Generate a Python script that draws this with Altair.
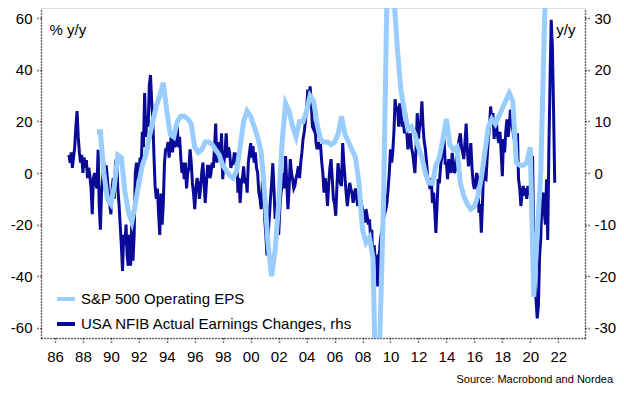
import altair as alt
import pandas as pd

EPS_NAME = "S&P 500 Operating EPS"
NFIB_NAME = "USA NFIB Actual Earnings Changes, rhs"
LIGHT = "#99CCFF"
DARK = "#0A0A99"
FONT = "Liberation Sans"

# S&P 500 operating EPS, % y/y, quarterly from 1989 Q1 (left axis)
eps = [
    16, 16, 0, -10,      # 1989
    -12, -5, 7, 6,       # 1990
    -7, -15, -19, -12,   # 1991
    -4, 3, 7, 14,        # 1992
    20, 26, 30, 35,      # 1993
    24, 15, 14, 20,      # 1994
    22, 22, 21, 19,      # 1995
    10, 8, 9, 12,        # 1996
    12, 11, 9, 7,        # 1997
    3, 1, -1, -2,        # 1998
    1, 10, 20, 24,       # 1999
    22, 18, 14, 8,       # 2000
    -8, -28, -40, -30,   # 2001
    -12, 12, 27, 24,     # 2002
    18, 14, 20, 20,      # 2003
    24, 30, 28, 19,      # 2004
    13, 12, 12, 11,      # 2005
    12, 15, 22, 15,      # 2006
    12, 9, 6, -4,        # 2007
    -22, -27, -25, -33,  # 2008
    -100, -62, -13, 70,  # 2009
    150, 68, 48, 32,     # 2010
    24, 17, 18, 15,      # 2011
    10, 6, 0, -4,        # 2012
    -4, 3, 6, 13,        # 2013
    21, 11, 9, 10,       # 2014
    -4, -9, -12, -14,    # 2015
    -13, -9, -2, 8,      # 2016
    18, 21, 19, 22,      # 2017
    25, 28, 31, 28,      # 2018
    4, 3, 3, 4,          # 2019
    10, -48, -24, 0,     # 2020
    55, 95,              # 2021
]

# NFIB actual earnings changes, monthly from Jan 1987 (right axis)
nfib = [
    3.5, 2, 4, 1, 3, 5, 9, 12, 7, 4, 2, 3.5,                       # 1987
    0, 3, 1, 2.5, -1, 1, -0.5, -3, -8, -1, 0, -2,                  # 1988
    -3, 4.5, -6, -11, -4, -1, 2, -2, 1.5, -1, -4, -6,              # 1989
    -8, -3, -1, -5, 2, 3, -3, -6, -10, -14, -19, -12,              # 1990
    -14, -10, -16, -18, -12, -18, -9, -17, -12, 0, 2, -1,          # 1991
    -1, 3, 1, 8, 5, 15.5, 7, 11, 9, 17, 19, 14,                    # 1992
    10, 3, -2.5, -5, -3, -8, -12, -4, -10, -6, 2, 4.5,             # 1993
    4.5, 6, 3, 5, 7.7, 4, 7, 5, 6, 9, 5, 7,                        # 1994
    3, 0, 2, -1.2, 2, -3, 0, 1, 4.6, 2, -2, -4,                    # 1995
    -7, -3, -1, -2, -5, -3, 0, 2, -2, -5.8, -2, 1.3,               # 1996
    1.3, -1, 0, 2, 1, 5, 9.6, 2, 4, 6, 3, 7.7,                     # 1997
    -1.2, 2, 4, 7.7, 3, 5, 3.9, 1, 2, 1.9, 4, 2,                   # 1998
    3.9, -3.8, -1, -5.8, -2, -1, 1.3, -2, -1, -3.8, 2, 4,          # 1999
    5.8, 3, 5.2, 2, 4, 1, 0, -3.8, -5, -7, -2, 1.3,                # 2000
    -8.9, -12, -16, -12, -8.9, -5, -2, 1.9, -3, -8.9, -6, -10,     # 2001
    -12, -7, -4, -2.5, 0, -3, 3.3, -2, -7, -3, 2.7, 0,             # 2002
    -1.2, -3, -2.5, -1, 0, 1.3, -1, 2, 4, 6.6, 8, 10,              # 2003
    12.3, 16.2, 13, 16.8, 14, 9, 8.5, 10, 6, 4.6, 6, 5,            # 2004
    5.2, 2, 0, -3.8, -1, -3, -6.4, -2, 1, 2.7, -1, -5,             # 2005
    -6, -8.3, -3, 1.9, 0, -2, -2.5, 5.8, 2, -1, -4, -6.4,          # 2006
    -4, -1.9, -3, -4, -5.8, -4, -3, -5, -6.4, -4, -6, -5.8,        # 2007
    -7, -9, -9.6, -7, -8.3, -10, -9, -12.7, -11, -20.4, -14, -17,  # 2008
    -16.6, -22, -18, -14, -12, -11, -8.9, -8, -7, -5.8, -3, 0,     # 2009
    4.6, 2, 4, 8, 14.3, 12, 12.9, 9, 13.5, 11.6, 9, 10,            # 2010
    7.7, 11.6, 8, 4.6, 6, 7.7, 5, 3.9, 2, 0, 5, 11.6,              # 2011
    6.6, 9, 10, 13.9, 9, 6, 4.6, 2, -1.2, -2, -3.1, -1,            # 2012
    -5.8, -3.8, -7, -11.6, -6.4, -1.2, -2, 1.3, 3, 4, 6.6, 1.9,    # 2013
    1.9, -1.2, 2.7, 1, 0, 3.9, 2, 0, 0.8, 3, 5, 6.6,               # 2014
    7.7, 5, 4, 2.7, 6, 9.6, 4.6, 1.3, 3, 5.8, 1, -1.9,             # 2015
    -3.1, -2, 0, -1.2, -7.7, -6, -11.6, -5.8, 1.3, -1, -1.2, 3,    # 2016
    6.6, 9, 12.9, 10, 11.6, 6.6, 9, 9.6, 7, 5.8, 8, 4,             # 2017
    -0.6, 6.6, 4, 8, 10.4, 7, 9, 12.3, 10, 8.5, 6.6, 8,            # 2018
    4, 7.7, -1.2, -3, -6.4, -4, -2.5, -4.4, -3, -5, -2.5, -4,      # 2019
    -4, -3.8, 3.3, -12.7, -19.3, -24.7, -28.2, -25.7, -16, -12.7, -5, -3.8,  # 2020
    -7.7, -10, -1.2, -13, 4.6, 18, 29.7, 24.5, 12, -1.9,           # 2021
]

left_ticks = [-60, -40, -20, 0, 20, 40, 60]
right_ticks = [-30, -20, -10, 0, 10, 20, 30]
year_ticks = list(range(1986, 2023, 2))

df_eps = pd.DataFrame({
    "date": pd.date_range("1989-01-01", periods=len(eps), freq="QS"),
    "value": eps,
    "series": EPS_NAME,
})
df_nfib = pd.DataFrame({
    "date": pd.date_range("1987-01-01", periods=len(nfib), freq="MS"),
    "value": nfib,
    "series": NFIB_NAME,
})

axis_style = dict(
    labelFont=FONT, labelColor="black",
    titleFont=FONT, titleFontSize=15, titleColor="black", titleFontWeight="normal",
    domainColor="black", domainDash=[1, 2], domainWidth=1.5,
    tickColor="black", tickDash=[1, 2], tickWidth=1.5, tickSize=4,
    grid=False,
)

x_enc = alt.X(
    "date:T",
    scale=alt.Scale(domain=[alt.DateTime(year=1985, month=1, date=1),
                            alt.DateTime(year=2023, month=12, date=1)]),
    axis=alt.Axis(values=[alt.DateTime(year=y, month=1, date=1) for y in year_ticks],
                  format="%y", title=None, labelPadding=7, labelFlush=False,
                  labelFontSize=15, **axis_style),
)

color_enc = alt.Color(
    "series:N",
    scale=alt.Scale(domain=[EPS_NAME, NFIB_NAME], range=[LIGHT, DARK]),
    legend=alt.Legend(
        orient="none", legendX=14, legendY=280, title=None,
        symbolType="stroke", symbolStrokeWidth=4, symbolSize=324,
        labelFont=FONT, labelFontSize=15, labelColor="black",
        labelOffset=4, rowPadding=6, padding=0, labelLimit=400,
    ),
)

hyphen_labels = "toString(datum.value)"

nfib_line = alt.Chart(df_nfib).mark_line(strokeWidth=3, clip=True).encode(
    x=x_enc,
    y=alt.Y("value:Q",
            scale=alt.Scale(domain=[-32, 32], nice=False, zero=False),
            axis=alt.Axis(orient="right", values=right_ticks, title="y/y",
                          titleAngle=0, titleX=-10, titleY=26,
                          titleAlign="right", titleBaseline="alphabetic",
                          labelExpr=hyphen_labels,
                          labelPadding=5, labelFontSize=15, **axis_style)),
    color=color_enc,
)

eps_line = alt.Chart(df_eps).mark_line(strokeWidth=5, clip=True).encode(
    x=x_enc,
    y=alt.Y("value:Q",
            scale=alt.Scale(domain=[-64, 64], nice=False, zero=False),
            axis=alt.Axis(orient="left", values=left_ticks, title="% y/y",
                          titleAngle=0, titleX=8, titleY=26,
                          titleAlign="left", titleBaseline="alphabetic",
                          labelExpr=hyphen_labels,
                          labelPadding=5, labelFontSize=15, **axis_style)),
    color=color_enc,
)

chart = alt.layer(nfib_line, eps_line).resolve_scale(
    y="independent"
).properties(
    width=544,
    height=330,
    padding={"left": 33, "top": 0, "right": 31, "bottom": 48},
    autosize=alt.AutoSizeParams(type="none"),
    title=alt.TitleParams(
        "Source: Macrobond and Nordea", orient="bottom", anchor="end",
        frame="group", dx=28, offset=10, font=FONT, fontSize=11,
        fontWeight="normal", color="black",
    ),
).configure_view(stroke=None).configure(background="white")

chart.save("out.html", embed_options={"renderer": "svg", "actions": False})
